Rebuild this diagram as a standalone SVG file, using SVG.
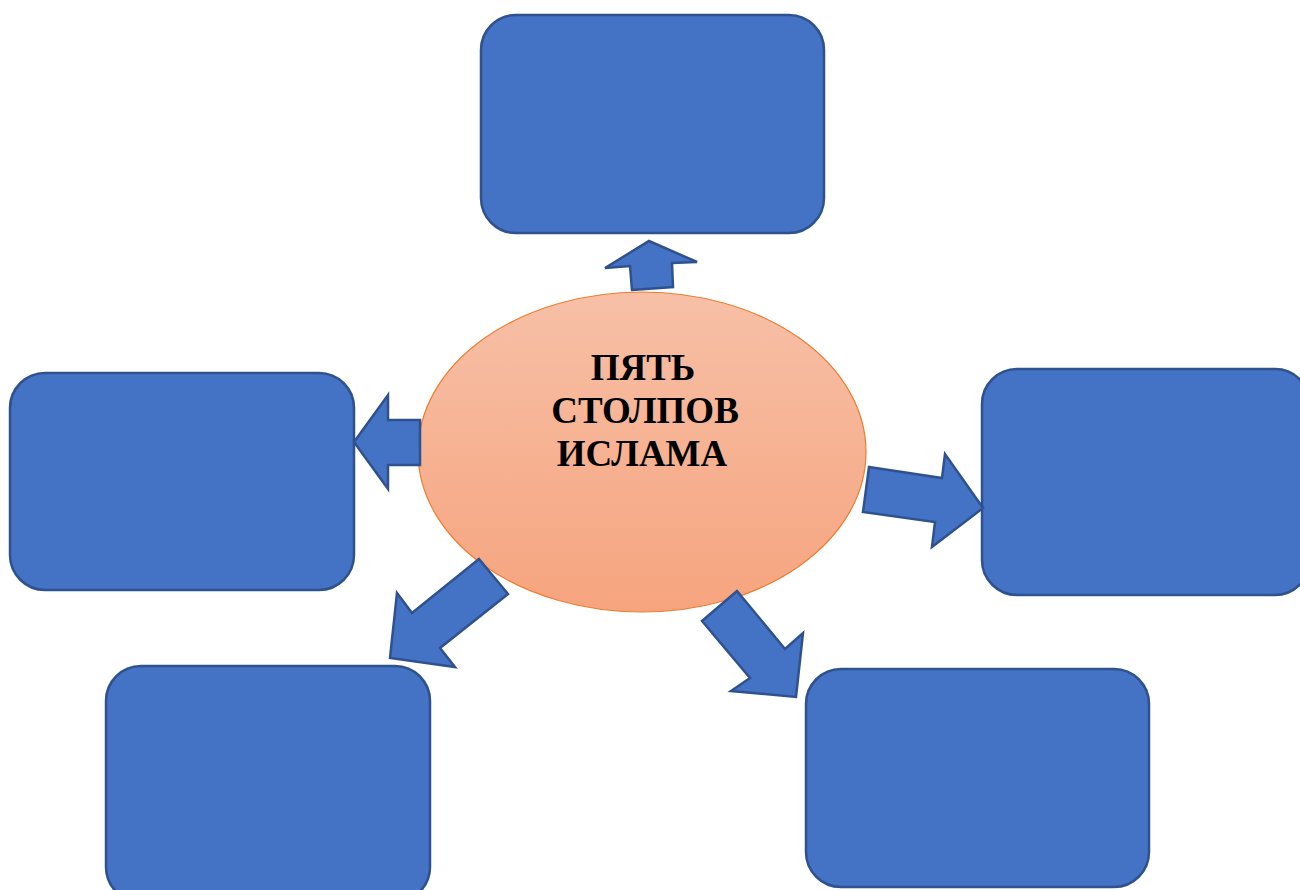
<svg xmlns="http://www.w3.org/2000/svg" width="1300" height="890" viewBox="0 0 1300 890">
<style>
.box{fill:#4472c4;stroke:#2f528f;stroke-width:2.5}
.arr{fill:#4472c4;stroke:#2f528f;stroke-width:2.5;stroke-linejoin:miter}
.t{font-family:"Liberation Serif","Times New Roman",serif;font-weight:bold;font-size:37px;fill:#000;text-anchor:middle}
</style>
<defs>
<linearGradient id="g" x1="0" y1="0" x2="0" y2="1">
<stop offset="0" stop-color="#f7c0a7"/>
<stop offset="1" stop-color="#f6a47e"/>
</linearGradient>
</defs>
<rect width="1300" height="890" fill="#fff"/>
<g id="box-top"><rect class="box" x="481" y="15" width="343" height="218" rx="35"/></g>
<g id="box-left"><rect class="box" x="10" y="373" width="344" height="217" rx="35"/></g>
<g id="box-right"><rect class="box" x="982" y="369" width="328" height="226" rx="35"/></g>
<g id="box-bottom-left"><rect class="box" x="106" y="666" width="324" height="236" rx="35"/></g>
<g id="box-bottom-right"><rect class="box" x="806" y="669" width="343" height="218" rx="35"/></g>
<g id="center">
<ellipse cx="642" cy="452" rx="224" ry="160" fill="url(#g)" stroke="#ed7d31" stroke-width="1.2"/>
<text class="t" x="643" y="380">ПЯТЬ</text>
<text class="t" x="645" y="423">СТОЛПОВ</text>
<text class="t" x="642" y="466">ИСЛАМА</text>
</g>
<g id="connectors">
<polygon class="arr" points="632,290 673,287 672,263 697,262 649,241 605,268 630,266"/>
<polygon class="arr" points="420,420 388,420 388,395 354,442 388,489 388,465 420,465"/>
<polygon class="arr" points="869,467 942,478 945,454 983,508 932,547 935,522 863,512"/>
<polygon class="arr" points="479,559 508,594 440,648 455,667 390,658 397,593 412,613"/>
<polygon class="arr" points="702,621 737,591 785,649 803,633 796,697 731,691 750,678"/>
</g>
</svg>
